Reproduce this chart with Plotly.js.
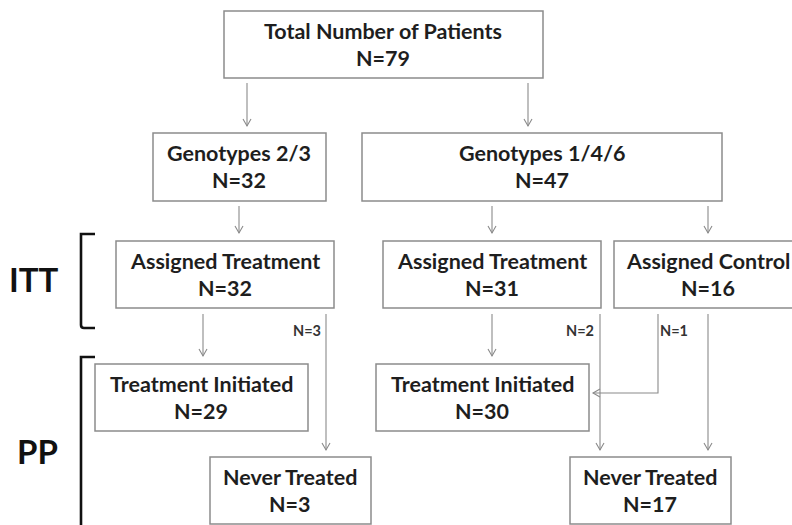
<!DOCTYPE html>
<html>
<head>
<meta charset="utf-8">
<script src="https://cdn.plot.ly/plotly-3.0.1.min.js"></script>
<style>html,body{margin:0;padding:0;background:#fff;}#chart{width:792px;height:525px;}</style>
</head>
<body>
<div id="chart"></div>
<script>
// ---- data ----
const nodeLabels = ["Total Number of Patients", "Genotypes 2/3", "Genotypes 1/4/6",
  "Assigned Treatment", "Assigned Treatment", "Assigned Control",
  "Treatment Initiated", "Treatment Initiated", "Never Treated", "Never Treated"];
const nodeCounts = [79, 32, 47, 32, 31, 16, 29, 30, 3, 17];
const flowCounts = [3, 2, 1];           // side flows: never treated / crossover
const phaseLabels = ["ITT", "PP"];

// ---- layout geometry (pixels, y downward) ----
const nodeX0 = [224, 153, 362, 116, 383, 614, 95, 376, 210, 570];
const nodeX1 = [543, 326, 722, 334, 601, 802, 308, 589, 371, 731];
const nodeY0 = [11, 133, 133, 241, 241, 241, 364, 364, 457, 457];
const nodeY1 = [78, 201, 201, 308, 308, 308, 431, 431, 524, 524];
const textCenterX = [383, 239, 542, 225, 492, 708, 201, 482, 290, 650];

const arrows = [
  {pts: [[247, 83], [247, 126]]},
  {pts: [[528, 83], [528, 126]]},
  {pts: [[239, 206], [239, 233]]},
  {pts: [[492, 206], [492, 233]]},
  {pts: [[708, 206], [708, 233]]},
  {pts: [[203, 314], [203, 356]]},
  {pts: [[326, 314], [326, 450]]},
  {pts: [[492, 314], [492, 356]]},
  {pts: [[600, 314], [600, 450]]},
  {pts: [[658, 314], [658, 393], [593, 393]]},
  {pts: [[708, 314], [708, 450]]}
];
const flowLabelX = [307, 580, 674];
const flowLabelY = 330;

const shapes = [];
const annotations = [];
const boxColor = "#8c8c8c";
const lineColor = "#8a8a8a";
const textColor = "#1e1e1e";
const fontFam = "Lato, 'Open Sans', sans-serif";

nodeLabels.forEach((lab, i) => {
  shapes.push({type: "rect", xref: "x", yref: "y", x0: nodeX0[i], x1: nodeX1[i], y0: nodeY0[i], y1: nodeY1[i],
    line: {color: boxColor, width: 1.5}, fillcolor: "rgba(0,0,0,0)"});
  const top = nodeY0[i];
  annotations.push({x: textCenterX[i], y: top + 20, xref: "x", yref: "y", text: "<b>" + lab + "</b>", showarrow: false,
    font: {family: fontFam, size: 21.5, color: textColor}, xanchor: "center", yanchor: "middle"});
  annotations.push({x: textCenterX[i], y: top + 47, xref: "x", yref: "y", text: "<b>N=" + nodeCounts[i] + "</b>", showarrow: false,
    font: {family: fontFam, size: 21.5, color: textColor}, xanchor: "center", yanchor: "middle"});
});

arrows.forEach(a => {
  const p = a.pts;
  let d = "M" + p[0][0] + "," + p[0][1];
  for (let k = 1; k < p.length; k++) d += " L" + p[k][0] + "," + p[k][1];
  shapes.push({type: "path", xref: "x", yref: "y", path: d, line: {color: lineColor, width: 1.1}});
  const e = p[p.length - 1], s = p[p.length - 2];
  const dx = Math.sign(e[0] - s[0]), dy = Math.sign(e[1] - s[1]);
  const L = 7, W = 4;
  const bx = e[0] - dx * L, by = e[1] - dy * L;
  const px = -dy * W, py = dx * W;
  shapes.push({type: "path", xref: "x", yref: "y",
    path: "M" + (bx + px) + "," + (by + py) + " L" + e[0] + "," + e[1] + " L" + (bx - px) + "," + (by - py),
    line: {color: lineColor, width: 1.1}});
});

flowCounts.forEach((n, i) => {
  annotations.push({x: flowLabelX[i], y: flowLabelY, xref: "x", yref: "y", text: "<b>N=" + n + "</b>", showarrow: false,
    font: {family: fontFam, size: 14.5, color: "#333"}, xanchor: "center", yanchor: "middle"});
});

// phase brackets
shapes.push({type: "path", xref: "x", yref: "y", path: "M95,234 L81,234 L81,325 Q81,328 84,328 L95,328",
  line: {color: "#111", width: 2.6}});
shapes.push({type: "path", xref: "x", yref: "y", path: "M95,357 L81,357 L81,530",
  line: {color: "#111", width: 2.6}});
const phaseX = [34, 37], phaseY = [279, 451];
phaseLabels.forEach((t, i) => {
  annotations.push({x: phaseX[i], y: phaseY[i], xref: "x", yref: "y", text: "<b>" + t + "</b>", showarrow: false,
    font: {family: fontFam, size: 33, color: "#111"}, xanchor: "center", yanchor: "middle"});
});

const layout = {
  width: 792, height: 525,
  margin: {l: 0, r: 0, t: 0, b: 0},
  paper_bgcolor: "#fff", plot_bgcolor: "#fff",
  xaxis: {range: [0, 792], visible: false, fixedrange: true},
  yaxis: {range: [525, 0], visible: false, fixedrange: true},
  shapes: shapes, annotations: annotations, showlegend: false
};
Plotly.newPlot("chart", [{x: [], y: [], type: "scatter", hoverinfo: "skip"}], layout, {staticPlot: true});
</script>
</body>
</html>
